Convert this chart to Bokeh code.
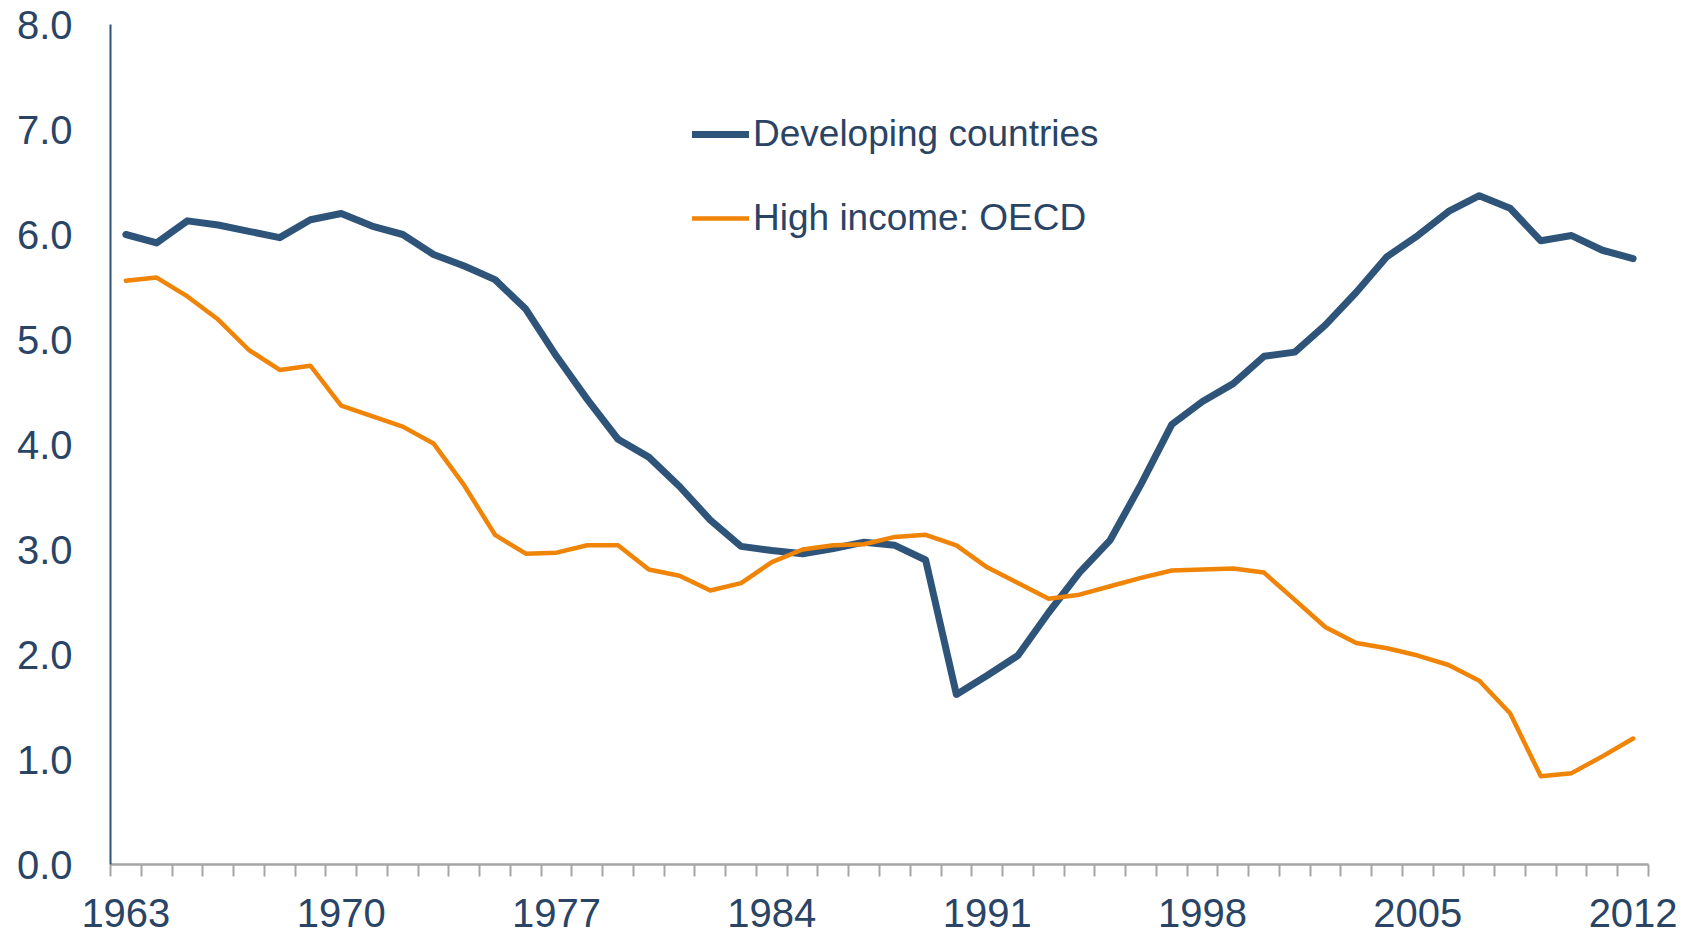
from bokeh.plotting import figure
from bokeh.models import Range1d, FixedTicker, Legend, LegendItem, NumeralTickFormatter
from bokeh.embed import file_html
from bokeh.resources import INLINE

years = list(range(1963, 2013))
developing = [6.00, 5.92, 6.13, 6.09, 6.03, 5.97, 6.14, 6.20, 6.08, 6.00,
              5.81, 5.70, 5.57, 5.29, 4.84, 4.43, 4.05, 3.88, 3.60, 3.28,
              3.03, 2.99, 2.96, 3.01, 3.07, 3.04, 2.90, 1.62, 1.80, 1.99,
              2.40, 2.78, 3.09, 3.62, 4.19, 4.41, 4.58, 4.84, 4.88, 5.14,
              5.45, 5.79, 5.99, 6.22, 6.37, 6.25, 5.94, 5.99, 5.85, 5.77]
oecd = [5.56, 5.59, 5.41, 5.19, 4.90, 4.71, 4.75, 4.37, 4.27, 4.17,
        4.01, 3.61, 3.14, 2.96, 2.97, 3.04, 3.04, 2.81, 2.75, 2.61,
        2.68, 2.88, 3.00, 3.04, 3.05, 3.12, 3.14, 3.04, 2.83, 2.68,
        2.53, 2.57, 2.65, 2.73, 2.80, 2.81, 2.82, 2.78, 2.52, 2.26,
        2.11, 2.06, 1.99, 1.90, 1.75, 1.44, 0.84, 0.87, 1.03, 1.20]
year_labels = [1963, 1970, 1977, 1984, 1991, 1998, 2005, 2012]
y_ticks = [0, 1, 2, 3, 4, 5, 6, 7, 8]
names = ["Developing countries", "High income: OECD"]

BLUE = "#2F5479"
ORANGE = "#EF8407"
TEXT = "#2A4466"
GREY = "#A6A6A6"
FONT = "Liberation Sans"

p = figure(width=1693, height=938, output_backend="svg", toolbar_location=None,
           x_range=Range1d(1962.5, 2012.5), y_range=Range1d(0, 8),
           min_border_left=110, min_border_right=45, min_border_top=24,
           min_border_bottom=74)
p.outline_line_color = None
p.xgrid.visible = False
p.ygrid.visible = False
p.background_fill_color = "white"
p.border_fill_color = "white"

r1 = p.line(years, developing, line_color=BLUE, line_width=7,
            line_join="round", line_cap="round")
r2 = p.line(years, oecd, line_color=ORANGE, line_width=4.5,
            line_join="round", line_cap="round")

xa = p.xaxis[0]
xa.ticker = FixedTicker(ticks=year_labels,
                        minor_ticks=[y - 0.5 for y in years] + [years[-1] + 0.5])
xa.axis_line_color = GREY
xa.axis_line_width = 2.5
xa.major_tick_line_color = None
xa.major_tick_in = 0
xa.major_tick_out = 0
xa.minor_tick_line_color = GREY
xa.minor_tick_line_width = 2
xa.minor_tick_in = 0
xa.minor_tick_out = 12
xa.major_label_standoff = 22
xa.major_label_text_font = FONT
xa.major_label_text_font_size = "40px"
xa.major_label_text_color = TEXT

ya = p.yaxis[0]
ya.ticker = FixedTicker(ticks=y_ticks, minor_ticks=[])
ya.formatter = NumeralTickFormatter(format="0.0")
ya.axis_line_color = BLUE
ya.axis_line_width = 2
ya.major_tick_line_color = None
ya.major_tick_in = 0
ya.major_tick_out = 0
ya.minor_tick_line_color = None
ya.major_label_standoff = 38
ya.major_label_text_font = FONT
ya.major_label_text_font_size = "40px"
ya.major_label_text_color = TEXT

legend = Legend(items=[LegendItem(label=names[0], renderers=[r1]),
                       LegendItem(label=names[1], renderers=[r2])],
                location=(582, 625), orientation="vertical")
legend.background_fill_alpha = 0
legend.border_line_color = None
legend.padding = 0
legend.margin = 0
legend.spacing = 42
legend.glyph_width = 57
legend.glyph_height = 42
legend.label_height = 42
legend.label_standoff = 4
legend.label_text_font = FONT
legend.label_text_font_size = "37px"
legend.label_text_color = TEXT
p.add_layout(legend, "center")

open("out.html", "w").write(file_html(p, INLINE))
